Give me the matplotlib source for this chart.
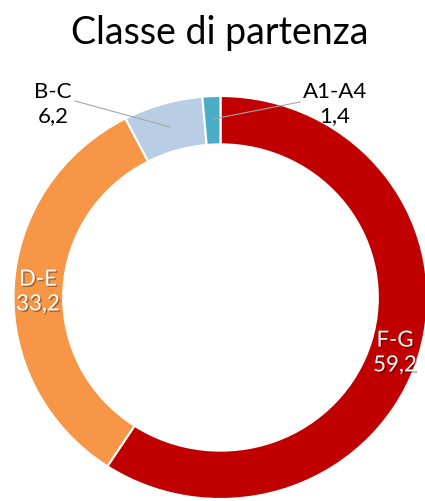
import matplotlib
matplotlib.use("Agg")
import matplotlib.pyplot as plt
import matplotlib.patheffects as pe

title = "Classe di partenza"
labels = ["F-G", "D-E", "B-C", "A1-A4"]
values = [59.2, 33.2, 6.2, 1.4]
value_text = ["59,2", "33,2", "6,2", "1,4"]
colors = ["#C00000", "#F79646", "#B9CDE5", "#4BACC6"]

W, H = 425, 502
fig = plt.figure(figsize=(W / 100, H / 100), dpi=100)
ax = fig.add_axes([0, 0, 1, 1])
cx, cy, Rx, Ry = 220.5, 298.5, 207.0, 201.5

def d(px, py):
    return ((px - cx) / Rx, (cy - py) / Ry)

ax.pie(values, colors=colors, startangle=90, counterclock=False, radius=1.0,
       wedgeprops=dict(width=0.24, edgecolor="white", linewidth=1.5))
ax.set_aspect("auto")
ax.set_xlim((0 - cx) / Rx, (W - cx) / Rx)
ax.set_ylim((cy - H) / Ry, cy / Ry)
ax.axis("off")

font = "Lato"
shadow = [pe.SimplePatchShadow(offset=(1, -1), shadow_rgbFace="black", alpha=0.35), pe.Normal()]

pos_in = {"F-G": (395, 354), "D-E": (38, 293)}
pos_out = {"B-C": (53, 104), "A1-A4": (335, 104)}
for lab, val in zip(labels, value_text):
    if lab in pos_in:
        x, y = d(*pos_in[lab])
        ax.text(x, y, f"{lab}\n{val}", ha="center", va="center", color="white",
                fontsize=16, family=font, linespacing=1.3, path_effects=shadow)
    else:
        x, y = d(*pos_out[lab])
        ax.text(x, y, f"{lab}\n{val}", ha="center", va="center", color="black",
                fontsize=16, family=font, linespacing=1.3)

for (p0, p1) in [((75, 102), (170, 128)), ((300, 103), (213, 120))]:
    a, b = d(*p0), d(*p1)
    ax.plot([a[0], b[0]], [a[1], b[1]], color="#A6A6A6", lw=0.8)

fig.text(220 / W, 1 - 33 / H, title, ha="center", va="center", fontsize=27, family=font)

fig.savefig("out.png", dpi=100)
